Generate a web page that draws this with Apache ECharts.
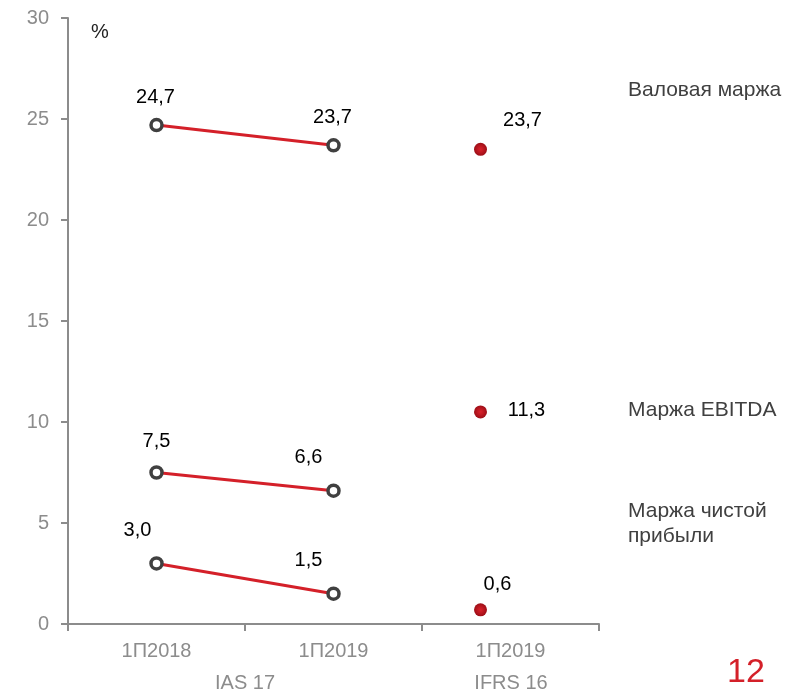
<!DOCTYPE html>
<html>
<head>
<meta charset="utf-8">
<style>
  html, body { margin: 0; padding: 0; background: #fff; }
  #chart { width: 798px; height: 691px; }
</style>
<script src="https://cdn.jsdelivr.net/npm/echarts@6/dist/echarts.min.js"></script>
</head>
<body>
<div id="chart"></div>
<script>
// categories and second-row group labels
const categories = ['1П2018', '1П2019', '1П2019'];
const groupLabels = ['IAS 17', 'IFRS 16'];
const yTicks = [0, 5, 10, 15, 20, 25, 30];

// IAS 17 lines (first two periods)
const grossMargin = [24.7, 23.7];
const ebitdaMargin = [7.5, 6.6];
const netMargin = [3.0, 1.5];

// IFRS 16 points (third period): plotted value and printed label
const ifrsValues = [23.5, 10.5, 0.7];
const ifrsLabels = ['23,7', '11,3', '0,6'];

const seriesNames = ['Валовая маржа', 'Маржа EBITDA', 'Маржа чистой\nприбыли'];

const FONT = 'Liberation Sans, Arial, sans-serif';
const GRAY = '#8c8c8c';
const RED = '#d42029';

const fmt = (v) => v.toFixed(1).replace('.', ',');

// label offsets relative to each point (style, not data)
const lineLabelOffsets = [
  [[-1, -28], [-1, -28]],
  [[0, -31], [-25, -33]],
  [[-19, -33], [-25, -33]]
];
const ifrsLabelOffsets = [[42, -29], [46, -1], [17, -25]];

const chart = echarts.init(document.getElementById('chart'));

const lineSeries = [grossMargin, ebitdaMargin, netMargin].map((values, s) => ({
  type: 'line',
  name: seriesNames[s],
  data: values.map((v, i) => ({
    value: v,
    label: { offset: lineLabelOffsets[s][i] }
  })),
  symbol: 'circle',
  symbolSize: 11,
  lineStyle: { color: RED, width: 3 },
  itemStyle: { color: '#fff', borderColor: '#404040', borderWidth: 3.5 },
  label: {
    show: true,
    position: 'inside',
    formatter: (p) => fmt(p.value),
    color: '#000',
    fontSize: 20,
    fontFamily: FONT
  },
  z: 3
}));

const dotColor = new echarts.graphic.RadialGradient(0.5, 0.5, 0.5, [
  { offset: 0, color: '#d8222b' },
  { offset: 0.4, color: '#c41a23' },
  { offset: 1, color: '#9c0e17' }
]);

const ifrsSeries = {
  type: 'scatter',
  data: ifrsValues.map((v, i) => ({
    value: [2, v],
    label: { offset: ifrsLabelOffsets[i], formatter: ifrsLabels[i] }
  })),
  symbol: 'circle',
  symbolSize: 13,
  symbolOffset: [-30, 0],
  itemStyle: { color: dotColor, opacity: 1 },
  label: {
    show: true,
    position: 'inside',
    color: '#000',
    fontSize: 20,
    fontFamily: FONT
  },
  z: 3
};

chart.setOption({
  animation: false,
  textStyle: { fontFamily: FONT },
  grid: { left: 68, right: 199, top: 18, bottom: 67 },
  xAxis: {
    type: 'category',
    data: categories,
    boundaryGap: true,
    axisLine: { lineStyle: { color: GRAY, width: 2 } },
    axisTick: { show: true, length: 7, lineStyle: { color: GRAY, width: 2 } },
    axisLabel: { color: GRAY, fontSize: 20, margin: 17, fontFamily: FONT },
    splitLine: { show: false }
  },
  yAxis: {
    type: 'value',
    min: yTicks[0],
    max: yTicks[yTicks.length - 1],
    interval: 5,
    axisLine: { show: true, lineStyle: { color: GRAY, width: 2 } },
    axisTick: { show: true, length: 7, lineStyle: { color: GRAY, width: 2 } },
    axisLabel: { color: GRAY, fontSize: 20, margin: 19, fontFamily: FONT },
    splitLine: { show: false }
  },
  graphic: [
    { type: 'text', left: 91, top: 22, style: { text: '%', fill: '#222', font: '20px ' + FONT } },
    { type: 'text', x: 245, y: 683, style: { text: groupLabels[0], fill: GRAY, font: '20px ' + FONT, align: 'center', verticalAlign: 'middle' } },
    { type: 'text', x: 511, y: 683, style: { text: groupLabels[1], fill: GRAY, font: '20px ' + FONT, align: 'center', verticalAlign: 'middle' } },
    { type: 'text', x: 628, y: 90, style: { text: seriesNames[0], fill: '#404040', font: '21px ' + FONT, verticalAlign: 'middle' } },
    { type: 'text', x: 628, y: 410, style: { text: seriesNames[1], fill: '#404040', font: '21px ' + FONT, verticalAlign: 'middle' } },
    { type: 'text', x: 628, y: 499, style: { text: seriesNames[2], fill: '#404040', font: '21px ' + FONT, lineHeight: 25 } },
    { type: 'text', x: 746, y: 673, style: { text: '12', fill: RED, font: '34px ' + FONT, align: 'center', verticalAlign: 'middle' } }
  ],
  series: [...lineSeries, ifrsSeries]
});
</script>
</body>
</html>
